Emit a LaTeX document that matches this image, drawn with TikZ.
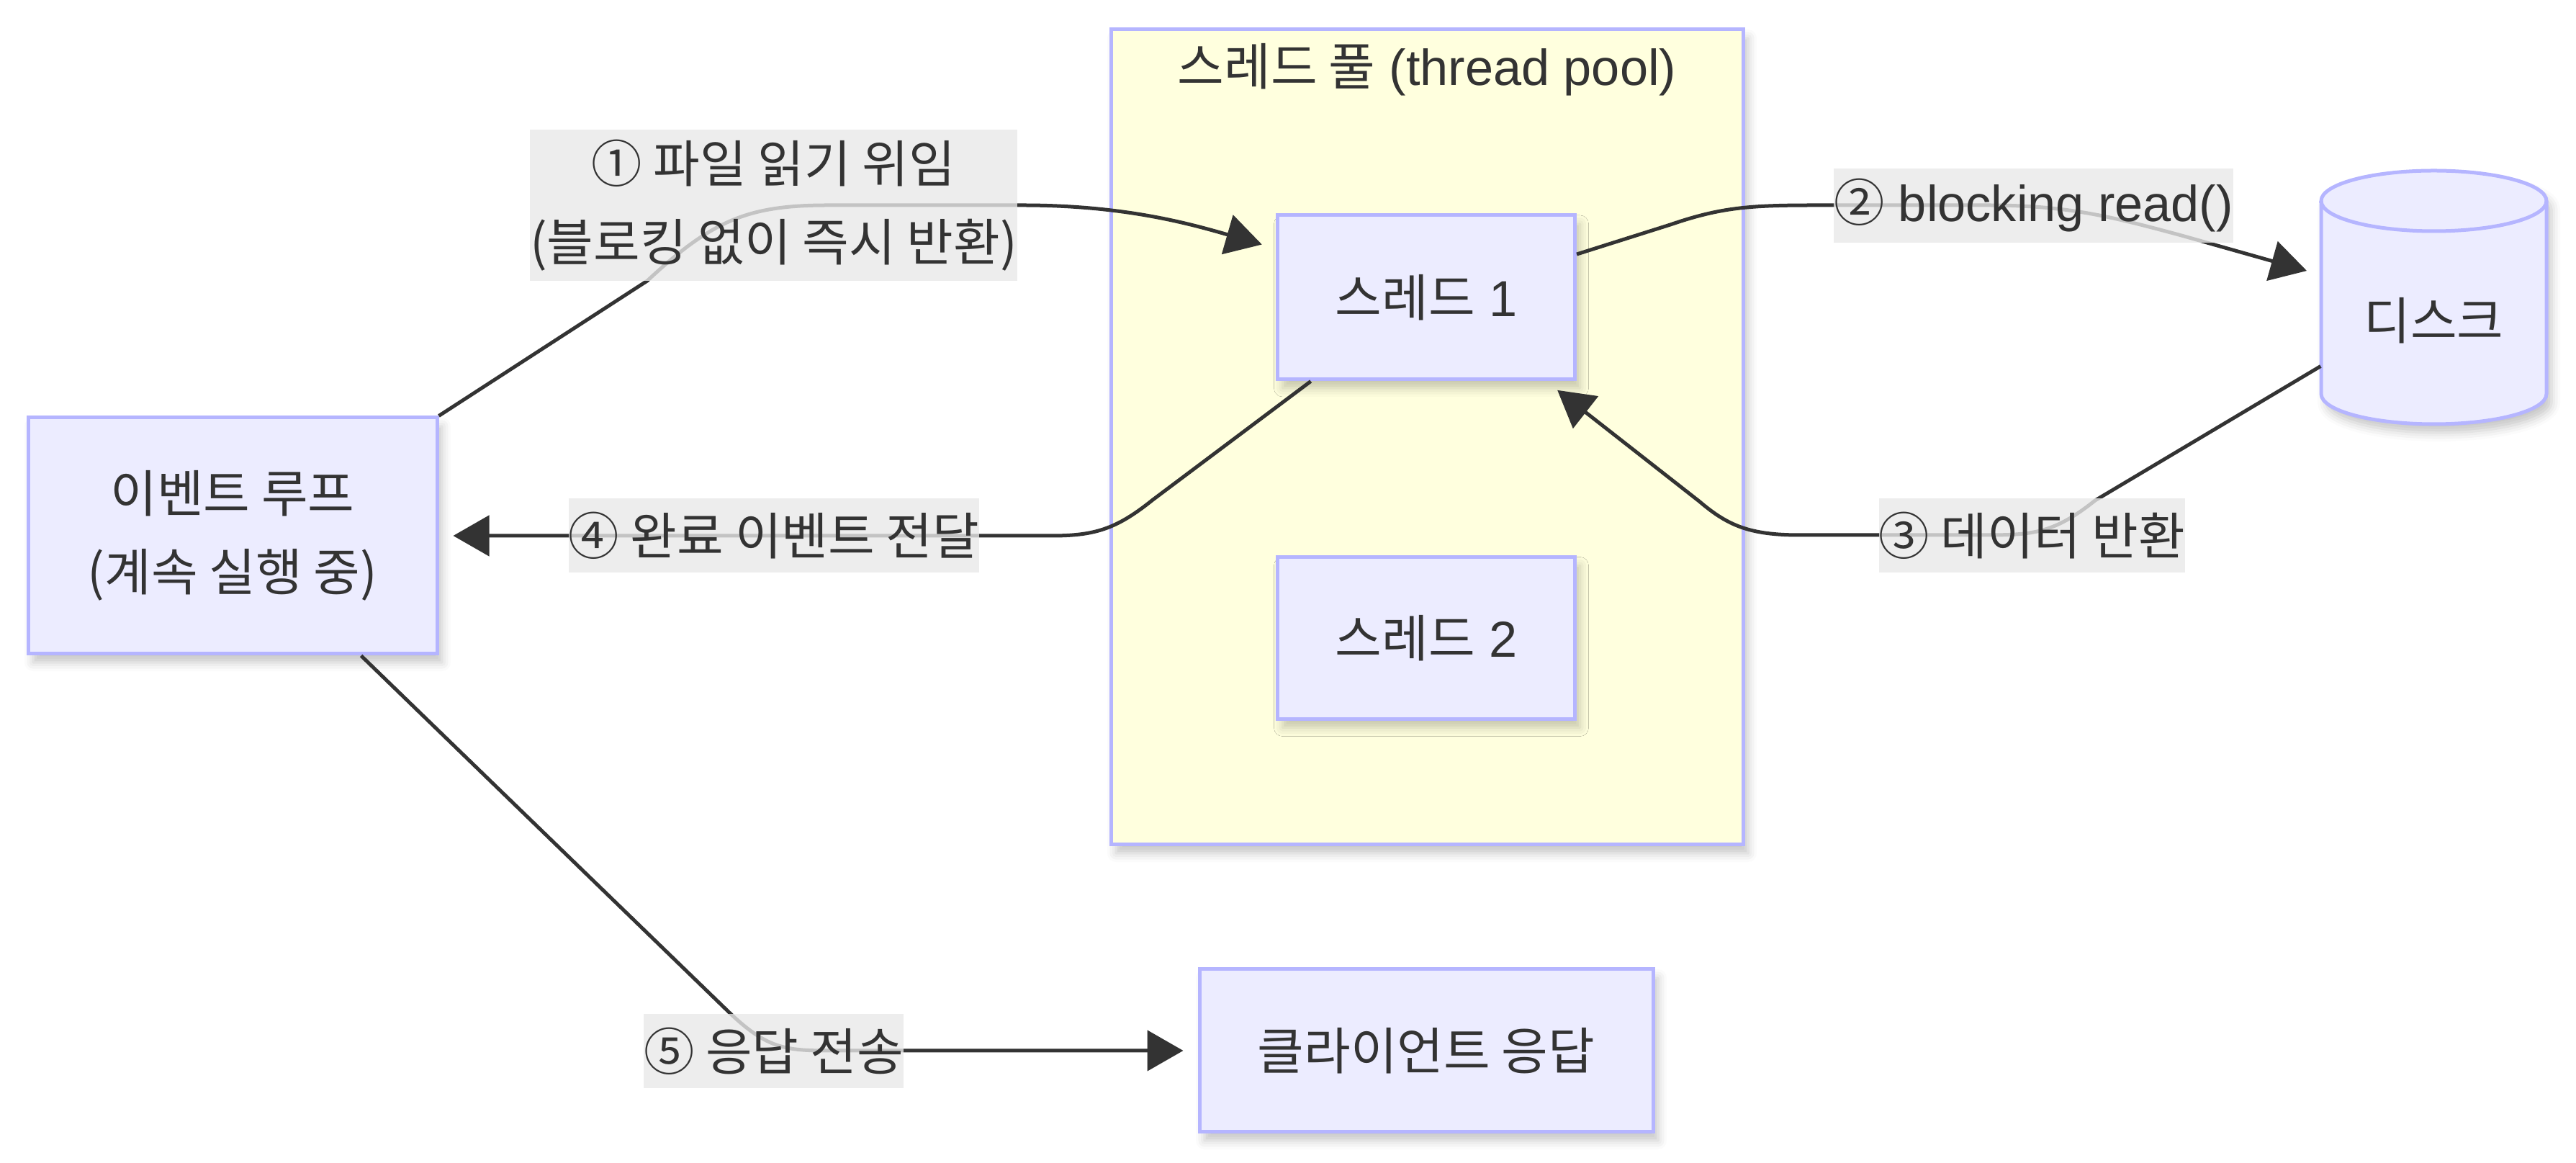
\documentclass[tikz,border=0pt]{standalone}
\usepackage{fontspec}
\setmainfont{Liberation Sans}
\newfontfamily\kr{Noto Sans CJK KR}
\usetikzlibrary{arrows.meta,shadows.blur}
\definecolor{ink}{HTML}{333333}
\definecolor{nodefill}{HTML}{ECECFF}
\definecolor{nodeline}{HTML}{B5B5FF}
\definecolor{poolfill}{HTML}{FFFFDE}
\definecolor{labelfill}{HTML}{E8E8E8}
\tikzset{
	soft shadow/.style={blur shadow={shadow xshift=0.07cm, shadow yshift=-0.12cm, shadow blur radius=0.12cm, shadow opacity=22}},
	box/.style={draw=nodeline, fill=nodefill, line width=0.05cm, align=center, soft shadow},
	pool/.style={draw=nodeline, fill=poolfill, line width=0.05cm, soft shadow},
	edge/.style={draw=ink, line width=0.05cm, -{Triangle[length=0.5cm, width=0.56cm]}, shorten >=0.2cm},
	edgelabel/.style={fill=labelfill, fill opacity=0.8, text opacity=1, inner xsep=0pt, inner ysep=0pt, minimum height=1.03cm, align=center}
}

\begin{document}
\begin{tikzpicture}[font=\fontsize{20}{31}\selectfont, text=ink]
			%%%%% START %%%%%
			\useasboundingbox (0, 0) rectangle (35.78, -16.15);
			
			\node[pool, minimum width=8.78cm, minimum height=11.32cm] (pool) at (19.82, -6.07) {};
			\node (pooltitle) at (19.82, -0.97) {{\kr 스레드 풀} (thread pool)};
			
			\node[box, minimum width=5.68cm, minimum height=3.28cm] (loop) at (3.23, -7.44) {{\kr 이벤트 루프}\\{\kr (계속 실행 중)}};
			\node[box, minimum width=4.13cm, minimum height=2.28cm] (t1) at (19.81, -4.13) {{\kr 스레드} 1};
			\node[box, minimum width=4.13cm, minimum height=2.25cm] (t2) at (19.81, -8.86) {{\kr 스레드} 2};
			\node[box, minimum width=6.30cm, minimum height=2.26cm] (client) at (19.81, -14.59) {{\kr 클라이언트 응답}};
			
			\draw[draw=nodeline, fill=nodefill, line width=0.05cm, soft shadow] (32.24, -2.79) -- (32.24, -5.47) arc (180:360:1.565 and 0.42) -- (35.37, -2.79) arc (0:180:1.565 and 0.42) -- cycle;
			\draw[draw=nodeline, line width=0.05cm] (32.24, -2.79) arc (180:360:1.565 and 0.42);
			\node[minimum width=3.13cm, minimum height=2.88cm] (disk) at (33.805, -4.45) {{\kr 디스크}};
			
			\draw[edge] (loop.north east) -- (8.99, -3.90) .. controls (9.9, -3.05) and (10.4, -2.85) .. (11.5, -2.85) -- (14.2, -2.85) .. controls (15.6, -2.85) and (16.5, -3.1) .. (t1.162);
			\draw[edge] (t1.16) -- (23.2, -3.12) .. controls (23.9, -2.88) and (24.3, -2.85) .. (25.2, -2.85) -- (27.6, -2.85) .. controls (28.7, -2.85) and (29.3, -3.0) .. (30.3, -3.27) -- (disk.158);
			\draw[edge] (disk.202) -- (29.1, -6.95) .. controls (28.5, -7.43) and (28.2, -7.43) .. (27.5, -7.43) -- (25.0, -7.43) .. controls (24.3, -7.43) and (24.0, -7.3) .. (23.6, -6.96) -- (t1.-35);
			\draw[edge] (t1.216) -- (16.0, -6.95) .. controls (15.5, -7.35) and (15.2, -7.44) .. (14.6, -7.44) -- (loop.east);
			\draw[edge] (loop.-43) -- (10.15, -14.08) .. controls (10.65, -14.55) and (10.9, -14.59) .. (11.5, -14.59) -- (client.west);
			
			\node[edgelabel, minimum height=2.1cm] (l1) at (10.745, -2.85) {{\kr ① 파일 읽기 위임}\\{\kr (블로킹 없이 즉시 반환)}};
			\node[edgelabel] (l2) at (28.245, -2.855) {{\kr ②} blocking read()};
			\node[edgelabel] (l3) at (28.225, -7.44) {{\kr ③ 데이터 반환}};
			\node[edgelabel] (l4) at (10.75, -7.435) {{\kr ④ 완료 이벤트 전달}};
			\node[edgelabel] (l5) at (10.745, -14.60) {{\kr ⑤ 응답 전송}};
			
			%%%%% END %%%%%
		\end{tikzpicture}
\end{document}
